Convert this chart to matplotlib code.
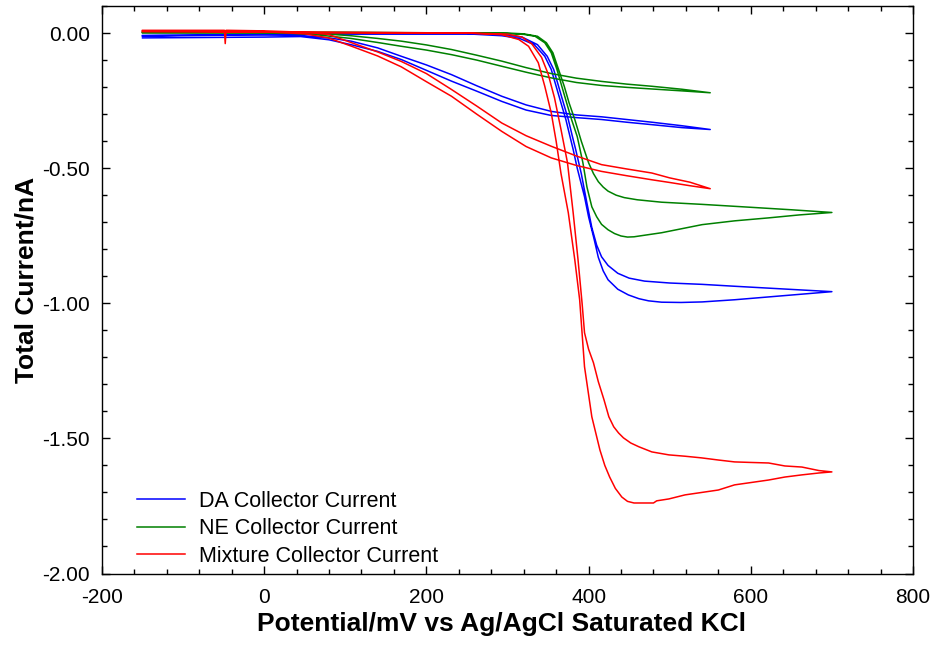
import matplotlib
matplotlib.use('Agg')
import matplotlib.pyplot as plt
from matplotlib.ticker import MultipleLocator, FormatStrFormatter

plt.rcParams['font.family'] = ['Liberation Sans', 'DejaVu Sans']
plt.rcParams['axes.unicode_minus'] = False

# DA - narrow window sweep (forward + reverse)
da_small_x = [-150, -100, -50, 0, 45, 80, 107, 140, 169, 200, 231, 262, 293, 323, 354, 385, 416, 447, 478, 515, 550,
              515, 478, 447, 416, 385, 354, 323, 293, 262, 231, 200, 169, 140, 107, 80, 45, 0, -50, -100, -150]
da_small_y = [-0.009, -0.008, -0.007, -0.007, -0.009, -0.018, -0.030, -0.055, -0.086, -0.118, -0.154, -0.195, -0.234,
              -0.266, -0.290, -0.303, -0.310, -0.320, -0.330, -0.343, -0.357,
              -0.350, -0.339, -0.330, -0.320, -0.313, -0.305, -0.285, -0.253, -0.215, -0.178, -0.138, -0.098, -0.068,
              -0.043, -0.025, -0.013, -0.015, -0.016, -0.017, -0.018]
# DA - wide window sweep
da_big_x = [-150, 0, 100, 200, 250, 293, 315, 333, 346, 354, 360, 366, 372, 377, 381, 386, 395, 400, 407, 412, 418,
            424, 436, 449, 462, 474, 490, 514, 540, 580, 640, 700,
            640, 580, 540, 500, 469, 450, 436, 424, 416, 410, 404, 398, 391, 384, 380, 375, 369, 363, 357, 349, 337,
            318, 295, 250, 100, 0, -150]
da_big_y = [-0.012, -0.006, -0.003, -0.003, -0.003, -0.010, -0.020, -0.043, -0.086, -0.135, -0.197, -0.259, -0.320,
            -0.382, -0.431, -0.500, -0.606, -0.680, -0.765, -0.830, -0.880, -0.913, -0.948, -0.969, -0.983, -0.991,
            -0.996, -0.997, -0.995, -0.987, -0.972, -0.957,
            -0.947, -0.937, -0.930, -0.925, -0.918, -0.907, -0.889, -0.860, -0.828, -0.785, -0.720, -0.630, -0.520,
            -0.430, -0.382, -0.320, -0.259, -0.197, -0.135, -0.086, -0.043, -0.015, -0.005, -0.002, -0.002, -0.004,
            -0.010]

# NE
ne_small_x = [-150, -100, -50, 0, 30, 60, 107, 140, 169, 200, 231, 262, 293, 323, 354, 385, 416, 447, 478, 515, 550,
              515, 478, 447, 416, 385, 354, 323, 293, 262, 231, 200, 169, 140, 107, 60, 30, 0, -50, -100, -150]
ne_small_y = [0.003, 0.003, 0.003, 0.003, 0.002, 0.0, -0.010, -0.020, -0.030, -0.044, -0.061, -0.082, -0.104, -0.128,
              -0.150, -0.167, -0.179, -0.189, -0.197, -0.208, -0.221,
              -0.214, -0.207, -0.201, -0.194, -0.183, -0.166, -0.145, -0.123, -0.100, -0.080, -0.063, -0.049, -0.035,
              -0.020, -0.005, -0.001, 0.0, 0.0, 0.0, 0.0]
ne_big_x = [-150, 0, 100, 250, 300, 320, 334, 346, 354, 361, 367, 373, 379, 386, 393, 398, 404, 410, 416, 424, 432,
            440, 448, 456, 465, 490, 540, 580, 622, 660, 700,
            650, 601, 540, 490, 460, 444, 434, 424, 418, 412, 406, 400, 391, 383, 376, 370, 363, 356, 348, 337, 320,
            300, 100, 0, -150]
ne_big_y = [0.003, 0.002, 0.002, 0.0, -0.002, -0.005, -0.012, -0.036, -0.073, -0.135, -0.197, -0.259, -0.320, -0.383,
            -0.480, -0.570, -0.643, -0.680, -0.708, -0.728, -0.742, -0.751, -0.755, -0.754, -0.750, -0.739, -0.709,
            -0.695, -0.684, -0.673, -0.664,
            -0.654, -0.645, -0.634, -0.626, -0.617, -0.609, -0.600, -0.585, -0.570, -0.550, -0.520, -0.480, -0.400,
            -0.320, -0.259, -0.197, -0.135, -0.073, -0.036, -0.012, -0.003, 0.0, 0.002, 0.002, 0.003]

# Mixture
mix_small_x = [-150, -100, -52, -49, -48, -47, -44, 0, 50, 79, 107, 140, 169, 200, 231, 262, 293, 323, 354, 385, 416,
               447, 478, 500, 525, 550,
               525, 500, 478, 447, 416, 385, 354, 323, 293, 262, 231, 200, 169, 140, 107, 79, 50, 0, -50, -100, -150]
mix_small_y = [0.010, 0.010, 0.010, 0.010, -0.039, 0.010, 0.010, 0.008, 0.003, -0.005, -0.035, -0.070, -0.105, -0.150,
               -0.209, -0.270, -0.333, -0.380, -0.419, -0.455, -0.487, -0.503, -0.518, -0.536, -0.552, -0.576,
               -0.565, -0.553, -0.543, -0.528, -0.512, -0.490, -0.462, -0.420, -0.364, -0.300, -0.234, -0.180, -0.125,
               -0.085, -0.048, -0.018, -0.003, 0.005, 0.005, 0.007, 0.008]
mix_big_x = [-150, 0, 100, 250, 293, 314, 326, 338, 346, 354, 360, 366, 375, 383, 389, 395, 404, 414, 420, 426, 433,
             441, 448, 456, 480, 484, 499, 519, 560, 580, 622, 642, 663, 684, 700,
             684, 663, 642, 622, 600, 580, 560, 539, 519, 499, 478, 462, 452, 443, 437, 431, 425, 419, 412, 406, 400,
             395, 392, 387, 381, 374, 366, 358, 350, 342, 330, 318, 300, 250, 100, 0, -150]
mix_big_y = [0.008, 0.005, 0.003, 0.0, -0.006, -0.024, -0.049, -0.110, -0.197, -0.296, -0.400, -0.520, -0.665, -0.839,
             -0.987, -1.235, -1.420, -1.543, -1.600, -1.643, -1.685, -1.717, -1.733, -1.739, -1.739, -1.731, -1.724,
             -1.709, -1.691, -1.672, -1.654, -1.643, -1.635, -1.628, -1.624,
             -1.619, -1.606, -1.602, -1.591, -1.589, -1.587, -1.580, -1.572, -1.566, -1.561, -1.550, -1.531, -1.517,
             -1.498, -1.480, -1.457, -1.420, -1.357, -1.290, -1.220, -1.170, -1.109, -1.000, -0.839, -0.665, -0.480,
             -0.357, -0.240, -0.150, -0.090, -0.040, -0.015, -0.004, 0.0, 0.0, 0.003, 0.005]

fig = plt.figure(figsize=(9.32, 6.46), dpi=100)
ax = fig.add_axes([0.1094, 0.1122, 0.8702, 0.8785])

lw = 1.1
ax.plot(da_small_x, da_small_y, color='#0000FF', lw=lw, label='DA Collector Current')
ax.plot(da_big_x, da_big_y, color='#0000FF', lw=lw)
ax.plot(ne_small_x, ne_small_y, color='#008000', lw=lw, label='NE Collector Current')
ax.plot(ne_big_x, ne_big_y, color='#008000', lw=lw)
ax.plot(mix_small_x, mix_small_y, color='#FF0000', lw=lw, label='Mixture Collector Current')
ax.plot(mix_big_x, mix_big_y, color='#FF0000', lw=lw)

ax.set_xlim(-200, 800)
ax.set_ylim(-2.0, 0.10)
ax.xaxis.set_major_locator(MultipleLocator(200))
ax.xaxis.set_minor_locator(MultipleLocator(40))
ax.yaxis.set_major_locator(MultipleLocator(0.5))
ax.yaxis.set_minor_locator(MultipleLocator(0.1))
ax.yaxis.set_major_formatter(FormatStrFormatter('%.2f'))

ax.tick_params(which='both', direction='in', top=True, right=True, width=1)
ax.tick_params(which='major', length=6, labelsize=15)
ax.tick_params(axis='x', which='major', pad=10.5)
ax.tick_params(axis='y', which='major', pad=8.5)
ax.tick_params(which='minor', length=3.5)
for s in ax.spines.values():
    s.set_linewidth(1)

ax.set_xlabel('Potential/mV vs Ag/AgCl Saturated KCl', fontsize=19, fontweight='bold')
ax.set_ylabel('Total Current/nA', fontsize=19, fontweight='bold')
ax.xaxis.set_label_coords(0.493, -0.068)
ax.yaxis.set_label_coords(-0.078, 0.517)

ax.legend(loc='lower left', bbox_to_anchor=(0.043, 0.012), frameon=False, fontsize=15.5,
          borderpad=0, borderaxespad=0, handlelength=2.26, handletextpad=0.65, labelspacing=0.3)

fig.savefig('out.png', dpi=100)
